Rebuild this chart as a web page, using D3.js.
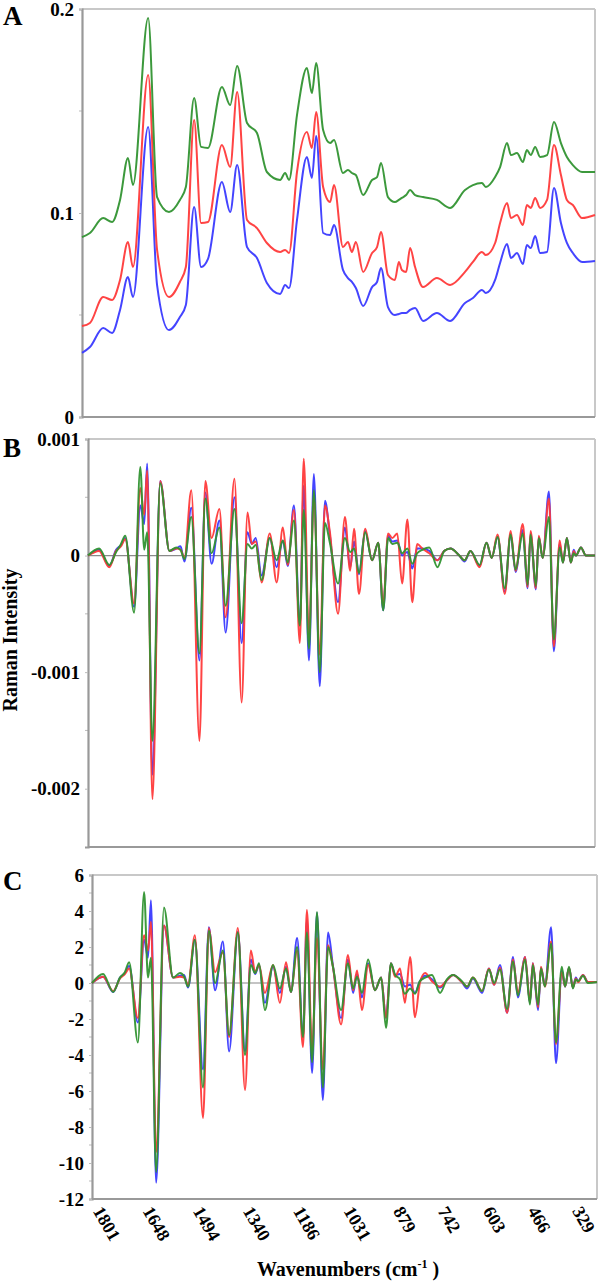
<!DOCTYPE html>
<html><head><meta charset="utf-8">
<script src="https://cdn.jsdelivr.net/npm/d3@7"></script>
<style>
body{margin:0;background:#fff}
svg{display:block}
</style>
</head><body><svg id="chart" width="600" height="1281"></svg>
<script>
// ---------- DATA ----------
const xTickLabels = [1801,1648,1494,1340,1186,1031,879,742,603,466,329];
const xDomain = [1801, 250];
const seriesNames = ["blue","red","green"];

// Panel A: Raman spectra (intensity)
const waveA = [1801,1777,1737,1710,1686,1662,1647,1601,1574,1538,1505,1487,1462,1441,1420,1378,1353,1332,1302,1272,1242,1202,1187,1175,1151,1121,1106,1093,1072,1051,1039,1012,997,985,973,951,924,909,897,876,855,843,834,821,809,794,770,728,688,643,619,592,580,552,537,516,504,486,468,456,444,431,416,395,374,353,335,317,289,250];
const greenA = [0.0882,0.0902,0.0975,0.0956,0.1064,0.127,0.1137,0.1956,0.1078,0.1005,0.1064,0.1127,0.1564,0.1324,0.1319,0.1618,0.1529,0.1721,0.1441,0.1392,0.1201,0.1162,0.1196,0.1162,0.148,0.1711,0.1588,0.1735,0.1407,0.1343,0.1358,0.1196,0.1211,0.1196,0.1186,0.1088,0.1162,0.1176,0.1245,0.1078,0.1054,0.1064,0.1074,0.1088,0.1113,0.1088,0.1078,0.1064,0.1025,0.1113,0.1137,0.1147,0.1127,0.1176,0.1225,0.1343,0.1284,0.1294,0.125,0.1309,0.1284,0.1324,0.1275,0.1284,0.1446,0.1343,0.1275,0.1235,0.1201,0.1201];
const redA = [0.0446,0.0461,0.0588,0.0574,0.0672,0.0858,0.0735,0.1676,0.0819,0.0588,0.0662,0.0735,0.1456,0.0951,0.0956,0.1333,0.1225,0.1593,0.0966,0.0926,0.0853,0.0809,0.0819,0.0804,0.1201,0.1397,0.1319,0.1495,0.1127,0.1054,0.1137,0.0833,0.0858,0.0809,0.0858,0.0711,0.0804,0.0833,0.0907,0.0696,0.0672,0.076,0.0721,0.0711,0.0828,0.0735,0.0637,0.0681,0.0647,0.0711,0.076,0.0809,0.0794,0.0853,0.0951,0.1049,0.0975,0.099,0.0941,0.1039,0.1025,0.1074,0.1025,0.1064,0.1333,0.1186,0.1064,0.1039,0.0975,0.099];
const blueA = [0.0314,0.0343,0.0436,0.0412,0.0525,0.0686,0.0588,0.1422,0.0647,0.0426,0.049,0.0549,0.1029,0.0735,0.0775,0.1152,0.1005,0.1235,0.0833,0.0779,0.0657,0.0603,0.0647,0.0632,0.0966,0.1275,0.1172,0.1377,0.0902,0.0892,0.0941,0.0721,0.0681,0.0662,0.0632,0.0544,0.0637,0.0662,0.073,0.0539,0.05,0.0505,0.051,0.051,0.0525,0.0534,0.0471,0.051,0.0471,0.0559,0.0583,0.0623,0.0608,0.0672,0.0755,0.0848,0.0779,0.0804,0.075,0.0843,0.0828,0.0887,0.0804,0.0809,0.1123,0.0951,0.0853,0.0804,0.076,0.0765];

// Panels B and C share the wavenumber grid
const waveD = [1801,1767,1736,1715,1700,1687,1660,1641,1629,1620,1604,1580,1552,1531,1518,1506,1485,1460,1442,1423,1399,1380,1353,1331,1313,1300,1288,1270,1245,1224,1205,1190,1171,1153,1141,1125,1110,1092,1076,1061,1036,1015,999,987,972,953,932,913,898,883,870,855,840,824,809,794,778,757,732,711,692,665,649,631,603,582,566,548,526,508,493,471,456,447,431,422,410,391,376,358,348,336,324,315,308,293,278,250];

// Panel B: first derivative (values in units of 0.001)
const bUnit = 0.001;
const greenB = [0,0.06,-0.08,0.03,0.1,0.17,-0.49,0.76,0.05,0.2,-1.59,0.62,0.04,0.07,0.05,-0.03,0.33,-0.84,0.49,0.02,0.24,-0.43,0.4,-0.58,0.1,0.06,0.09,-0.21,0.15,-0.04,0.13,-0.06,0.3,-0.6,0.39,-0.8,0.56,-1.0,0.28,0.11,-0.24,0.15,0.03,0.06,-0.15,0.2,-0.04,0.11,-0.47,0.15,0.1,0.11,0.02,0.06,-0.07,0.02,0.05,0.07,-0.1,0.04,0.06,0,-0.04,0.04,-0.08,0.11,-0.02,0.16,-0.28,0.18,-0.12,0.19,-0.25,0.18,-0.26,0.15,-0.02,0.33,-0.72,0.07,-0.06,0.15,-0.06,0.02,0,0.07,0,0];
const redB = [0,0.04,-0.1,0.04,0.08,0.14,-0.41,0.58,0.35,0.73,-2.09,0.64,0.04,0.06,0.05,-0.02,0.56,-1.59,0.64,0.15,0.4,-0.53,0.66,-1.26,0.37,0.1,0.12,-0.23,0.19,-0.23,0.24,-0.08,0.39,-0.75,0.83,-0.7,0.5,-0.85,0.43,0.2,-0.5,0.33,-0.13,0.23,-0.33,0.23,-0.04,0.11,-0.43,0.19,0.15,0.19,-0.24,0.31,-0.4,0.1,0.06,0.02,-0.04,0.04,0.06,0,-0.04,0.04,-0.1,0.11,-0.02,0.18,-0.33,0.21,-0.13,0.27,-0.27,0.21,-0.28,0.17,-0.02,0.49,-0.78,0.13,-0.06,0.15,-0.06,0.04,0,0.07,0,0];
const blueB = [0,0.05,-0.09,0.05,0.09,0.15,-0.44,0.43,0.27,0.79,-1.88,0.64,0.04,0.06,0.08,-0.05,0.41,-0.9,0.54,-0.07,0.3,-0.66,0.5,-0.75,0.2,0.1,0.15,-0.17,0.15,-0.1,0.13,-0.09,0.43,-0.6,0.6,-0.9,0.7,-1.12,0.47,0.17,-0.4,0.24,-0.1,0.12,-0.16,0.21,-0.04,0.11,-0.47,0.17,0.12,0.13,0,0.03,-0.11,0.06,0.06,0.04,-0.04,0.04,0.06,0,-0.05,0.04,-0.09,0.11,-0.02,0.16,-0.31,0.18,-0.14,0.22,-0.28,0.19,-0.29,0.16,-0.02,0.55,-0.82,0.1,-0.06,0.15,-0.06,0.05,0,0.07,0,0];

// Panel C: second derivative
const greenC = [0,0.5,-0.5,0.3,0.6,1.15,-3.3,5.05,0.3,1.4,-10.5,4.2,0.3,0.55,0.35,-0.2,2.4,-5.8,2.9,0,1.8,-2.9,2.8,-4.0,1.0,0.55,1.1,-1.5,1.0,-0.3,0.8,-0.5,2.0,-3.0,2.8,-4.4,3.95,-5.8,2.0,0.9,-1.5,1.1,-0.3,0.35,-0.55,1.3,-0.4,0.3,-2.5,1.1,0.45,0.2,-0.6,-0.3,-0.6,0.1,0.3,0.45,-0.55,0.2,0.45,0.1,-0.2,0.3,-0.45,0.75,0,0.75,-1.45,1.2,-0.7,1.3,-1.2,1.0,-1.2,0.8,-0.2,2.2,-3.3,0.9,-0.2,0.9,-0.3,0.2,0.1,0.4,0,0.05];
const redC = [0,0.35,-0.45,0.25,0.5,0.8,-1.95,2.65,1.8,3.4,-9.4,3.2,0.3,0.35,0.3,-0.1,2.65,-7.5,3.05,0.6,1.7,-3.0,3.05,-5.95,1.8,0.6,1.0,-0.55,1.0,-1.1,1.15,-0.5,1.8,-3.55,4.05,-3.7,2.5,-4.8,2.1,0.9,-2.3,1.55,-0.4,0.7,-1.5,1.0,-0.4,0.3,-1.95,1.1,0.35,0.8,-1.1,1.45,-1.9,0.0,0.55,0.1,-0.2,0.15,0.45,0.05,-0.2,0.3,-0.45,0.8,-0.1,0.85,-1.65,1.3,-0.55,1.45,-1.05,1.1,-1.35,0.9,-0.2,2.3,-3.4,0.6,-0.2,0.85,-0.25,0.25,0.05,0.45,0.05,0.05];
const blueC = [0,0.35,-0.5,0.3,0.55,0.95,-2.2,2.4,1.4,4.6,-11.1,3.2,0.3,0.4,0.45,-0.25,2.4,-4.8,3.1,-0.4,2.3,-3.8,2.85,-3.8,1.3,0.5,1.0,-1.1,0.9,-0.55,0.9,-0.5,2.5,-3.0,3.5,-5.0,3.9,-6.5,2.8,0.95,-1.95,1.3,-0.55,0.5,-0.8,1.1,-0.4,0.3,-1.95,1.1,0.45,0.5,-0.2,-0.1,-0.55,0.1,0.4,0.2,-0.25,0.15,0.45,0.05,-0.3,0.25,-0.55,0.8,-0.1,1.0,-1.65,1.45,-0.8,1.45,-1.1,1.1,-1.5,0.85,-0.15,3.1,-4.45,0.7,-0.2,0.85,-0.25,0.3,0.1,0.45,0.05,0.05];

// Y ticks
const yTicksA = [0.2, 0.1, 0];
const yLabelsA = ["0.2","0.1","0"];
const yMinorA = [0.15, 0.05];
const yTicksB = [0.001, 0, -0.001, -0.002];
const yLabelsB = ["0.001","0","-0.001","-0.002"];
const yMinorB = [0.0005, -0.0005, -0.0015];
const yTicksC = [6,4,2,0,-2,-4,-6,-8,-10,-12];
const yLabelsC = ["6","4","2","0","-2","-4","-6","-8","-10","-12"];
const yMinorC = [5,3,1,-1,-3,-5,-7,-9,-11];

// ---------- DRAW ----------
const colors = {blue:"#3a3aff", red:"#ff3a3a", green:"#319431"};
const svg = d3.select("#chart");
svg.append("rect").attr("width",600).attr("height",1281).attr("fill","#fff");
const FONT = "'Liberation Serif','Times New Roman',serif";

const panels = [
  {letter:"A", letterY:25, left:82, right:595, top:9, bottom:417, yDomain:[0,0.2],
   ticks:yTicksA, labels:yLabelsA, minor:yMinorA, zero:false,
   wave:waveA, series:{blue:blueA, red:redA, green:greenA}},
  {letter:"B", letterY:457, left:88, right:595, top:439, bottom:847, yDomain:[-0.0025,0.001],
   ticks:yTicksB, labels:yLabelsB, minor:yMinorB, zero:true,
   wave:waveD, series:{blue:blueB.map(v=>v*bUnit), red:redB.map(v=>v*bUnit), green:greenB.map(v=>v*bUnit)}},
  {letter:"C", letterY:890, left:92, right:597, top:875, bottom:1199, yDomain:[-12,6],
   ticks:yTicksC, labels:yLabelsC, minor:yMinorC, zero:true,
   wave:waveD, series:{blue:blueC, red:redC, green:greenC}}
];

panels.forEach((p) => {
  const x = d3.scaleLinear().domain(xDomain).range([p.left, p.right]);
  const y = d3.scaleLinear().domain(p.yDomain).range([p.bottom, p.top]);
  p.x = x; p.y = y;
  const g = svg.append("g");

  // frame
  g.append("line").attr("x1",p.left).attr("x2",p.right).attr("y1",p.top).attr("y2",p.top)
    .attr("stroke","#c8c8c8").attr("stroke-width",2);
  g.append("line").attr("x1",p.right).attr("x2",p.right).attr("y1",p.top).attr("y2",p.bottom)
    .attr("stroke","#c8c8c8").attr("stroke-width",2);
  g.append("line").attr("x1",p.left).attr("x2",p.right).attr("y1",p.bottom).attr("y2",p.bottom)
    .attr("stroke","#999").attr("stroke-width",2);
  if (p.zero) {
    g.append("line").attr("x1",p.left).attr("x2",p.right).attr("y1",y(0)).attr("y2",y(0))
      .attr("stroke","#8a8a8a").attr("stroke-width",1.2);
  }

  // minor ticks
  g.selectAll(".minor").data(p.minor).enter().append("line")
    .attr("x1",p.left-3).attr("x2",p.left).attr("y1",d=>y(d)).attr("y2",d=>y(d))
    .attr("stroke","#bbb").attr("stroke-width",1);

  // y axis
  const ax = d3.axisLeft(y).tickValues(p.ticks).tickFormat((d,i)=>p.labels[i]).tickSize(3).tickPadding(5);
  const axg = g.append("g").attr("transform",`translate(${p.left},0)`).call(ax);
  axg.select(".domain").attr("stroke","#999").attr("stroke-width",2.2);
  axg.selectAll(".tick line").attr("stroke","#bbb");
  axg.selectAll("text").attr("font-family",FONT).attr("font-weight","bold")
    .attr("font-size",19).attr("fill","#000");

  // lines
  const line = d3.line().x(d=>x(d[0])).y(d=>y(d[1])).curve(d3.curveMonotoneX);
  seriesNames.forEach(name => {
    const pts = p.wave.map((w,i)=>[w, p.series[name][i]]);
    g.append("path").datum(pts).attr("d",line).attr("fill","none")
      .attr("stroke",colors[name]).attr("stroke-width",2).attr("stroke-linejoin","round")
      .attr("stroke-opacity",0.95);
  });

  // panel letter
  svg.append("text").attr("x",3).attr("y",p.letterY).text(p.letter)
    .attr("font-family",FONT).attr("font-weight","bold").attr("font-size",27);
});

// x axis under panel C
const pc = panels[2];
const xAx = d3.axisBottom(pc.x).tickValues(xTickLabels).tickSize(0).tickFormat(d3.format("d"));
const xg = svg.append("g").attr("transform",`translate(0,${pc.bottom})`).call(xAx);
xg.select(".domain").remove();
xg.selectAll("text").attr("x",0).attr("y",0).attr("dy",0)
  .attr("text-anchor","start").attr("transform","translate(0,12) rotate(60)")
  .attr("font-family",FONT).attr("font-weight","bold").attr("font-size",18).attr("fill","#000");

// axis titles
svg.append("text").attr("transform","translate(17,640) rotate(-90)").attr("text-anchor","middle")
  .attr("font-family",FONT).attr("font-weight","bold").attr("font-size",20).text("Raman Intensity");
const xt = svg.append("text").attr("x",348).attr("y",1276).attr("text-anchor","middle")
  .attr("font-family",FONT).attr("font-weight","bold").attr("font-size",20);
xt.append("tspan").text("Wavenumbers (cm");
xt.append("tspan").attr("font-size",12).attr("dy",-8).text("-1");
xt.append("tspan").attr("dy",8).text(" )");
</script>
</body></html>
